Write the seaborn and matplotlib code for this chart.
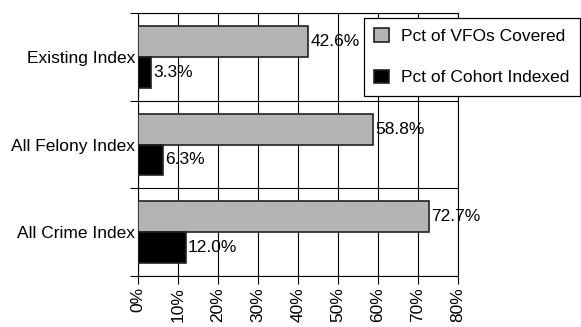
import matplotlib
matplotlib.use("Agg")
import matplotlib.pyplot as plt
import seaborn as sns
import pandas as pd
from matplotlib.ticker import FixedLocator

# Index coverage figures
categories = ["Existing Index", "All Felony Index", "All Crime Index"]
series_names = ["Pct of VFOs Covered", "Pct of Cohort Indexed"]
vfos_covered = [42.6, 58.8, 72.7]
cohort_indexed = [3.3, 6.3, 12.0]
x_ticks = [0, 10, 20, 30, 40, 50, 60, 70, 80]

df = pd.DataFrame({
    "index": categories * 2,
    "series": [series_names[0]] * 3 + [series_names[1]] * 3,
    "value": vfos_covered + cohort_indexed,
})

sns.set_theme(style="white")
plt.rcParams["font.family"] = ["Liberation Sans", "DejaVu Sans"]
plt.rcParams["text.color"] = "#000000"
FS = 12.5

fig = plt.figure(figsize=(5.81, 3.27), dpi=100)
ax = fig.add_axes([138 / 581, 1 - 276 / 327, 320 / 581, 263 / 327])

sns.barplot(data=df, x="value", y="index", hue="series", order=categories,
            hue_order=series_names, palette=["#b4b4b4", "#000000"],
            width=0.7, edgecolor="#222222", linewidth=1.2, orient="h",
            ax=ax, zorder=3)

ax.set_xlim(0, 80)
ax.set_ylim(2.5, -0.5)
ax.set_xlabel("")
ax.set_ylabel("")

# vertical grid every 10%, horizontal lines between categories
ax.set_xticks(x_ticks)
ax.set_xticklabels([f"{t}%" for t in x_ticks], rotation=90, fontsize=FS)
ax.yaxis.set_minor_locator(FixedLocator([-0.5, 0.5, 1.5, 2.5]))
ax.grid(True, axis="x", which="major", color="#000000", linewidth=0.8, zorder=0)
ax.grid(True, axis="y", which="minor", color="#000000", linewidth=0.8, zorder=0)
ax.grid(False, axis="y", which="major")
ax.set_axisbelow(True)

ax.tick_params(axis="x", which="major", direction="out", length=6, width=0.8,
               color="#000000", bottom=True, pad=2, labelcolor="#000000")
ax.tick_params(axis="y", which="major", length=0, pad=2, labelsize=FS,
               labelcolor="#000000")
ax.tick_params(axis="y", which="minor", direction="out", length=6, width=0.8,
               color="#000000", left=True)

for side in ["left", "right", "top", "bottom"]:
    ax.spines[side].set_visible(True)
    ax.spines[side].set_color("#000000")
    ax.spines[side].set_linewidth(0.8)

# value labels next to each bar
for container, vals in zip(ax.containers, [vfos_covered, cohort_indexed]):
    ax.bar_label(container, labels=[f"{v:.1f}%" for v in vals], padding=1.5,
                 fontsize=FS, color="#000000")

handles, labels = ax.get_legend_handles_labels()
if ax.legend_ is not None:
    ax.legend_.remove()
leg = ax.legend(handles, labels, loc="upper right",
                bbox_to_anchor=(580 / 581, 1 - 18 / 327),
                bbox_transform=fig.transFigure, fontsize=FS,
                frameon=True, fancybox=False, framealpha=1,
                edgecolor="#000000", handlelength=0.85, handleheight=0.85,
                handletextpad=0.7, labelspacing=1.45, borderpad=0.6,
                borderaxespad=0, labelcolor="#000000")
leg.get_frame().set_linewidth(0.9)
leg.set_zorder(10)

fig.savefig("out.png", dpi=100)
